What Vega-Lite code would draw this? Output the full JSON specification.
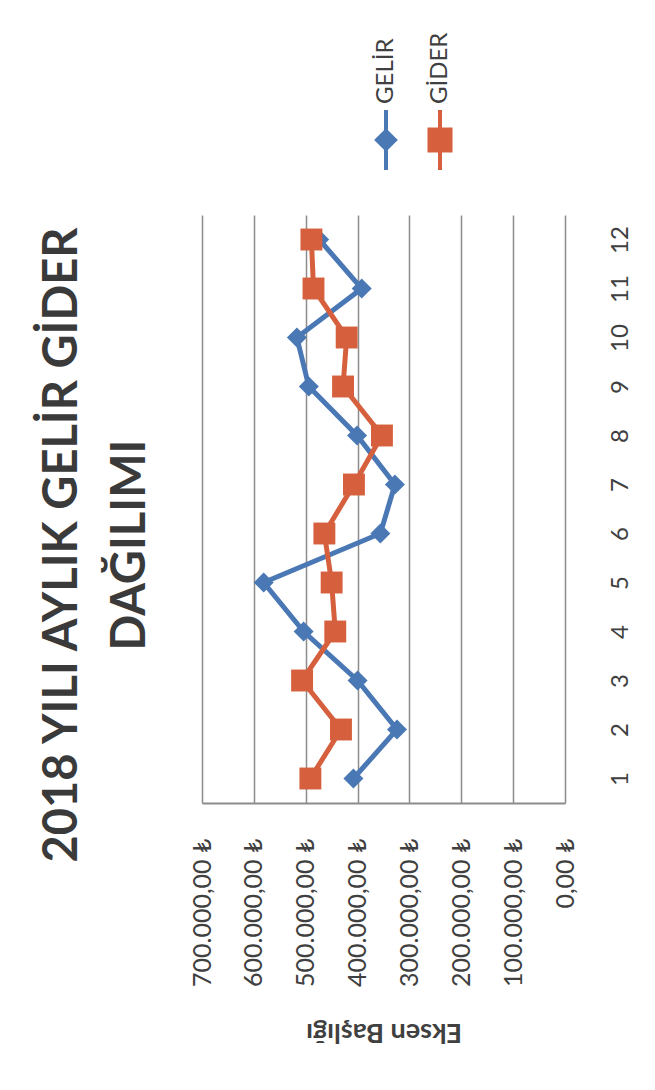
{
  "$schema": "https://vega.github.io/schema/vega-lite/v6.json",
  "autosize": "none",
  "padding": {"left": 202, "top": 215, "right": 90, "bottom": 287},
  "width": 363,
  "height": 588,
  "background": "white",
  "config": {
    "view": {"stroke": null},
    "font": "Lato, DejaVu Sans",
    "locale": {"number": {"decimal": ",", "thousands": ".", "grouping": [3], "currency": ["", " ₺"]}}
  },
  "title": {
    "text": ["2018 YILI AYLIK GELİR GİDER", "DAĞILIMI"],
    "orient": "left",
    "anchor": "middle",
    "frame": "group",
    "font": "Lato, DejaVu Sans",
    "fontSize": 47,
    "fontWeight": "bold",
    "color": "#3a3a3a",
    "lineHeight": 68,
    "offset": 35,
    "dx": -36
  },
  "data": {
    "values": [
      {"ay": 1, "seri": "GELİR", "tutar": 408000},
      {"ay": 2, "seri": "GELİR", "tutar": 324000},
      {"ay": 3, "seri": "GELİR", "tutar": 400000},
      {"ay": 4, "seri": "GELİR", "tutar": 504000},
      {"ay": 5, "seri": "GELİR", "tutar": 581000},
      {"ay": 6, "seri": "GELİR", "tutar": 356000},
      {"ay": 7, "seri": "GELİR", "tutar": 328000},
      {"ay": 8, "seri": "GELİR", "tutar": 401000},
      {"ay": 9, "seri": "GELİR", "tutar": 494000},
      {"ay": 10, "seri": "GELİR", "tutar": 517000},
      {"ay": 11, "seri": "GELİR", "tutar": 392000},
      {"ay": 12, "seri": "GELİR", "tutar": 474000},
      {"ay": 1, "seri": "GİDER", "tutar": 491000},
      {"ay": 2, "seri": "GİDER", "tutar": 432000},
      {"ay": 3, "seri": "GİDER", "tutar": 507000},
      {"ay": 4, "seri": "GİDER", "tutar": 443000},
      {"ay": 5, "seri": "GİDER", "tutar": 450000},
      {"ay": 6, "seri": "GİDER", "tutar": 464000},
      {"ay": 7, "seri": "GİDER", "tutar": 407000},
      {"ay": 8, "seri": "GİDER", "tutar": 353000},
      {"ay": 9, "seri": "GİDER", "tutar": 428000},
      {"ay": 10, "seri": "GİDER", "tutar": 421000},
      {"ay": 11, "seri": "GİDER", "tutar": 485000},
      {"ay": 12, "seri": "GİDER", "tutar": 489000}
    ]
  },
  "encoding": {
    "y": {
      "field": "ay",
      "type": "ordinal",
      "sort": "descending",
      "scale": {"type": "point", "padding": 0.5},
      "axis": {
        "orient": "right",
        "title": null,
        "labelAngle": 270,
        "labelFontSize": 24,
        "labelColor": "#404040",
        "labelPadding": 43,
        "ticks": false,
        "domain": false,
        "grid": false
      }
    },
    "x": {
      "field": "tutar",
      "type": "quantitative",
      "scale": {"domain": [0, 700000], "reverse": true, "nice": false},
      "axis": {
        "orient": "bottom",
        "values": [0, 100000, 200000, 300000, 400000, 500000, 600000, 700000],
        "format": "$,.2f",
        "labelAngle": 270,
        "labelFontSize": 25,
        "labelColor": "#404040",
        "labelPadding": 35,
        "ticks": false,
        "domainColor": "#8c8c8c",
        "domainWidth": 2,
        "grid": true,
        "gridColor": "#8c8c8c",
        "gridWidth": 1.5,
        "title": "Eksen Başlığı",
        "titleAngle": 180,
        "titleFontSize": 27,
        "titleFontWeight": "bold",
        "titleColor": "#404040",
        "titlePadding": 58
      }
    },
    "color": {
      "field": "seri",
      "type": "nominal",
      "scale": {"domain": ["GELİR", "GİDER"], "range": ["#4a78b5", "#d6603d"]},
      "legend": {
        "orient": "none",
        "legendX": 184,
        "legendY": -75,
        "direction": "horizontal",
        "title": null,
        "columnPadding": 18,
        "labelFontSize": 24,
        "labelColor": "#404040",
        "symbolOpacity": 1,
        "symbolSize": 900,
        "symbolStrokeWidth": 4,
        "encode": {
          "symbols": {
            "update": {
              "x": {"value": 0},
              "y": {"value": 0},
              "size": {"value": 900},
              "fill": {"signal": "datum.value === 'GELİR' ? '#4a78b5' : '#d6603d'"},
              "stroke": {"signal": "datum.value === 'GELİR' ? '#4a78b5' : '#d6603d'"},
              "strokeWidth": {"value": 4},
              "opacity": {"value": 1}
            }
          },
          "labels": {
            "update": {
              "x": {"value": 0},
              "y": {"value": -36},
              "angle": {"value": -90},
              "align": {"value": "left"},
              "baseline": {"value": "middle"},
              "fontSize": {"value": 24}
            }
          }
        }
      }
    }
  },
  "layer": [
    {
      "mark": {"type": "point", "filled": true, "size": 0, "opacity": 1},
      "encoding": {
        "shape": {
          "field": "seri",
          "type": "nominal",
          "scale": {"domain": ["GELİR", "GİDER"], "range": ["M0,-2V2M-0.6,0L0,-0.6L0.6,0L0,0.6Z", "M0,-2V2M-0.7,-0.7H0.7V0.7H-0.7Z"]},
          "legend": null
        }
      }
    },
    {"mark": {"type": "line", "strokeWidth": 5}},
    {
      "transform": [{"filter": "datum.seri === 'GELİR'"}],
      "mark": {"type": "point", "shape": "diamond", "filled": true, "opacity": 1, "size": 400}
    },
    {
      "transform": [{"filter": "datum.seri === 'GİDER'"}],
      "mark": {"type": "point", "shape": "square", "filled": true, "opacity": 1, "size": 480}
    }
  ]
}
